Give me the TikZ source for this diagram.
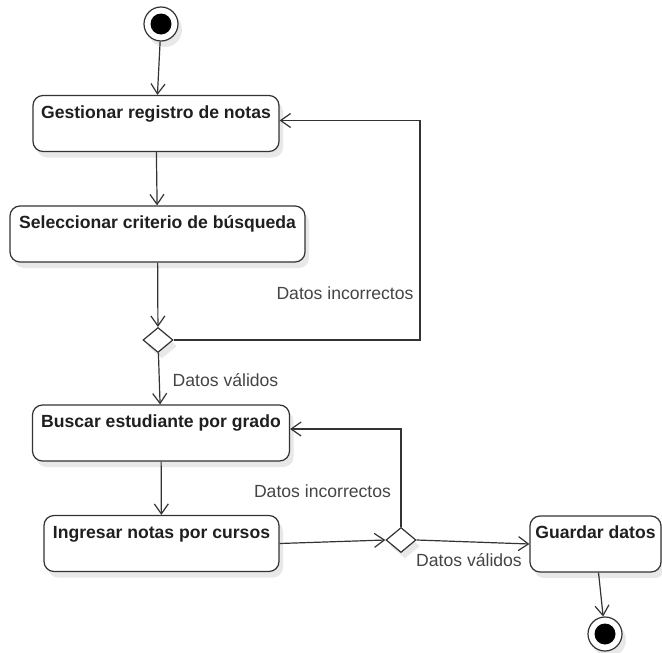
\documentclass[tikz,border=0pt]{standalone}
\usepackage{fontspec}
\setmainfont{Liberation Sans}
\usetikzlibrary{arrows.meta,shapes.geometric,shadows}
\definecolor{ink}{HTML}{333333}
\definecolor{lbl}{HTML}{444444}
\tikzset{
  sh/.style={drop shadow={shadow xshift=4pt,shadow yshift=-6pt,fill=black!9,opacity=1}},
  act/.style={draw=ink,line width=1.2pt,rounded corners=10pt,fill=white,sh,
    inner sep=0pt,text height=22.5pt,text depth=33.5pt,text=black!88,
    font=\fontsize{17.6}{20}\selectfont\bfseries},
  dec/.style={draw=ink,line width=1.2pt,diamond,fill=white,sh,inner sep=0pt,
    minimum width=30pt,minimum height=25pt},
  ring/.style={circle,draw=ink,line width=1.2pt,fill=white,sh,inner sep=0pt,
    minimum size=34pt,path picture={\fill[black] (path picture bounding box.center) circle (10.5pt);}},
  flow/.style={draw=ink,line width=1.2pt,-{Straight Barb[length=10pt,width=14pt,line width=1.2pt]}},
  guard/.style={text=lbl,font=\fontsize{17.6}{20}\selectfont,inner sep=0pt}
}
\begin{document}
\begin{tikzpicture}[x=1pt,y=-1pt]
\useasboundingbox (0,0) rectangle (662,653);
% states and actions
\node[ring] (start) at (161,24) {};
\node[act,minimum width=246pt] (gest) at (156,123.5) {Gestionar registro de notas};
\node[act,minimum width=295pt] (sel) at (157.5,234) {Seleccionar criterio de búsqueda};
\node[dec] (d1) at (158,340) {};
\node[act,minimum width=257pt] (busc) at (161,433) {Buscar estudiante por grado};
\node[act,minimum width=235pt] (ingr) at (161.5,543.5) {Ingresar notas por cursos};
\node[dec] (d2) at (401,540) {};
\node[act,minimum width=131pt] (guard) at (595.5,544) {Guardar datos};
\node[ring] (end) at (605,634) {};
% guard labels
\node[guard] (g1) at (345,293) {Datos incorrectos};
\node[guard] (g2) at (225.5,380) {Datos válidos};
\node[guard] (g3) at (322.5,491) {Datos incorrectos};
\node[guard] (g4) at (469,560) {Datos válidos};
% transitions
\coordinate (c1) at (420,340);
\draw[flow] (start) -- (gest);
\draw[flow] (gest) -- (sel);
\draw[flow] (sel) -- (d1);
\draw[flow] (d1.east) -- (c1) |- ([yshift=3pt]gest.east);
\draw[flow] (d1) -- (busc);
\draw[flow] (busc) -- (ingr);
\draw[flow] (ingr.east) -- (d2.west);
\draw[flow] (d2.north) |- ([yshift=4pt]busc.east);
\draw[flow] (d2.east) -- (guard.west);
\draw[flow] (guard) -- (end);
\end{tikzpicture}
\end{document}
